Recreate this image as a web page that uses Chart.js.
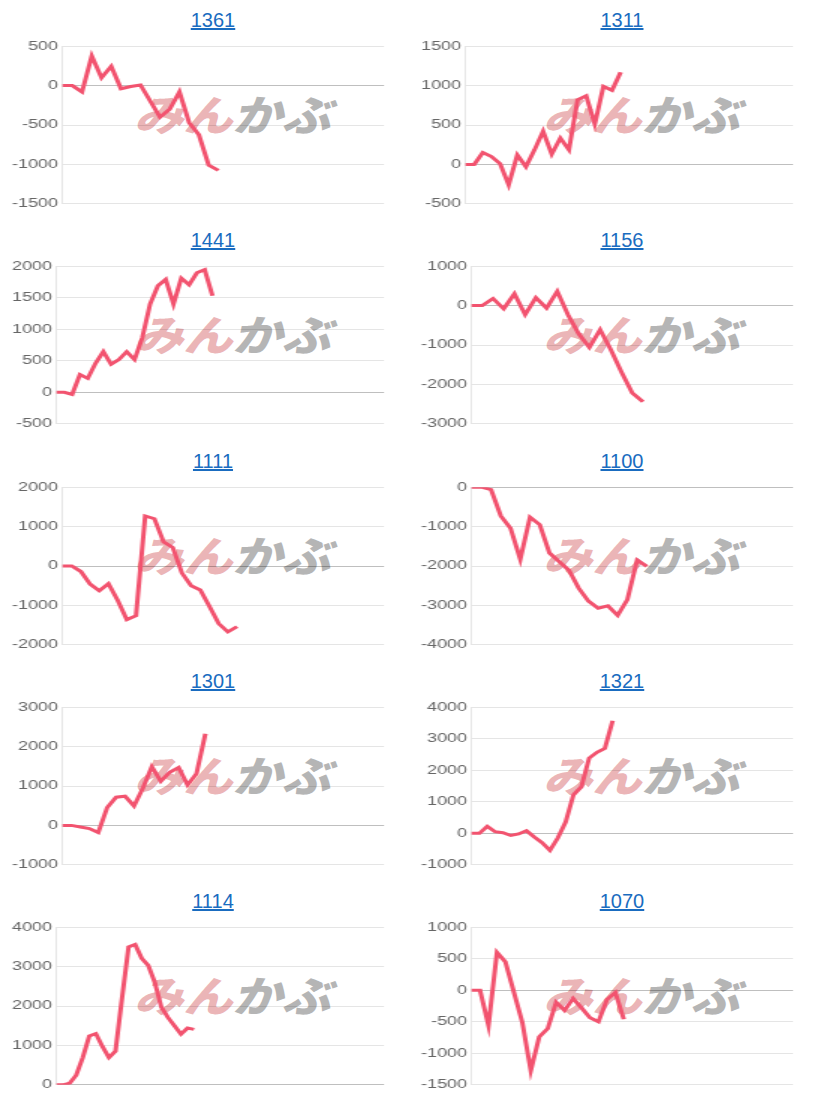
<!DOCTYPE html>
<html lang="ja">
<head>
<meta charset="utf-8">
<title>Charts</title>
<script src="https://cdn.jsdelivr.net/npm/chart.js@4.4.1/dist/chart.umd.min.js"></script>
<style>
  body { margin: 0; background: #fff; }
  #grid { position: relative; width: 818px; height: 1105px; overflow: hidden; }
  .panel { position: absolute; width: 409px; height: 220px; }
  .panel h3 {
    position: absolute; left: 0; top: 8px; width: 426px; margin: 0;
    text-align: center; font: normal 20px/24px "Liberation Sans", Arial, sans-serif;
  }
  .panel h3 a { color: #1a6cc0; text-decoration: underline; }
  .wm {
    position: absolute; left: 134px; top: 92px; white-space: nowrap;
    font: italic 900 42px/42px "Noto Sans CJK JP", sans-serif;
    transform: scaleX(1.17); transform-origin: 0 0;
  }
  .wm .a { color: #ebb5b7; }
  .wm .b { color: #b5b5b5; }
  .panel canvas { position: absolute; left: 0; top: 36px; }
</style>
</head>
<body>
<div id="grid"></div>
<script>
const codes = ["1361", "1311", "1441", "1156", "1111", "1100", "1301", "1321", "1114", "1070"];

const s1361 = [0, 0, -80, 375, 100, 245, -40, -12, 8, -195, -400, -300, -80, -470, -625, -1010, -1075];
const s1311 = [0, 0, 150, 100, 10, -260, 120, -30, 185, 420, 130, 335, 185, 820, 870, 510, 990, 940, 1170];
const s1441 = [0, 0, -35, 280, 220, 460, 645, 445, 520, 645, 520, 865, 1400, 1690, 1790, 1400, 1810, 1705, 1895, 1945, 1530];
const s1156 = [0, 0, 180, -80, 300, -230, 200, -65, 360, -230, -715, -1060, -610, -1120, -1690, -2220, -2440];
const s1111 = [0, 0, -140, -460, -630, -450, -870, -1360, -1260, 1270, 1200, 610, 470, -180, -500, -610, -1030, -1460, -1670, -1540];
const s1100 = [0, 0, -60, -730, -1040, -1830, -760, -950, -1670, -1890, -2110, -2560, -2890, -3070, -3010, -3250, -2850, -1850, -2010];
const s1301 = [0, 0, -40, -80, -180, 455, 715, 740, 495, 945, 1490, 1120, 1350, 1470, 1025, 1310, 2325];
const s1321 = [0, 0, 220, 50, 20, -70, -20, 80, -120, -300, -540, -150, 355, 1220, 1470, 2385, 2570, 2690, 3570];
const s1114 = [0, 0, 40, 245, 690, 1240, 1300, 975, 690, 855, 2200, 3500, 3560, 3210, 3030, 2600, 1970, 1710, 1500, 1285, 1440, 1405];
const s1070 = [0, 0, -560, 600, 450, -30, -510, -1275, -740, -610, -190, -320, -130, -280, -435, -500, -150, -35, -460];

const series = [s1361, s1311, s1441, s1156, s1111, s1100, s1301, s1321, s1114, s1070];

// number of (hidden) x labels per chart
const dayCounts = [34, 39, 43, 31, 36, 34, 37, 42, 51, 39];

const yMin = [-1500, -500, -500, -3000, -2000, -4000, -1000, -1000, 0, -1500];
const yMax = [500, 1500, 2000, 1000, 2000, 0, 3000, 4000, 4000, 1000];
const yStep = [500, 500, 500, 1000, 1000, 1000, 1000, 1000, 1000, 500];

Chart.defaults.font.family = "'Liberation Sans', Arial, sans-serif";
Chart.defaults.font.size = 12;
Chart.defaults.color = "#666";

const grid = document.getElementById("grid");

codes.forEach((code, i) => {
  const panel = document.createElement("div");
  panel.className = "panel";
  panel.style.left = (i % 2) * 409 + "px";
  panel.style.top = Math.floor(i / 2) * 220.25 + "px";
  panel.innerHTML =
    '<h3><a href="#">' + code + "</a></h3>" +
    '<div class="wm"><span class="a">みん</span><span class="b">かぶ</span></div>';

  // drawn narrow, shown stretched sideways like the original
  const canvas = document.createElement("canvas");
  canvas.width = 260;
  canvas.height = 178;
  canvas.style.width = "390px";
  canvas.style.height = "178px";
  panel.appendChild(canvas);
  grid.appendChild(panel);

  const labels = Array.from({ length: dayCounts[i] }, (_, k) => k + 1);

  new Chart(canvas.getContext("2d"), {
    type: "line",
    data: {
      labels: labels,
      datasets: [
        {
          label: code,
          data: series[i],
          borderColor: "#f2536f",
          borderWidth: 3,
          pointRadius: 0,
          fill: false,
          tension: 0,
        },
      ],
    },
    options: {
      responsive: false,
      devicePixelRatio: 1,
      animation: false,
      layout: { padding: { left: 5, right: 4, top: 0, bottom: 0 } },
      plugins: {
        legend: { display: false },
        tooltip: { enabled: false },
      },
      scales: {
        x: {
          ticks: { display: false },
          grid: { display: false, drawTicks: false },
          border: { display: false },
        },
        y: {
          min: yMin[i],
          max: yMax[i],
          ticks: { stepSize: yStep[i], padding: 3, callback: (v) => String(v) },
          grid: {
            drawTicks: false,
            color: (ctx) =>
              ctx.tick && ctx.tick.value === 0 ? "rgba(0,0,0,0.25)" : "rgba(0,0,0,0.1)",
          },
          border: { color: "rgba(0,0,0,0.1)" },
        },
      },
    },
  });
});
</script>
</body>
</html>
